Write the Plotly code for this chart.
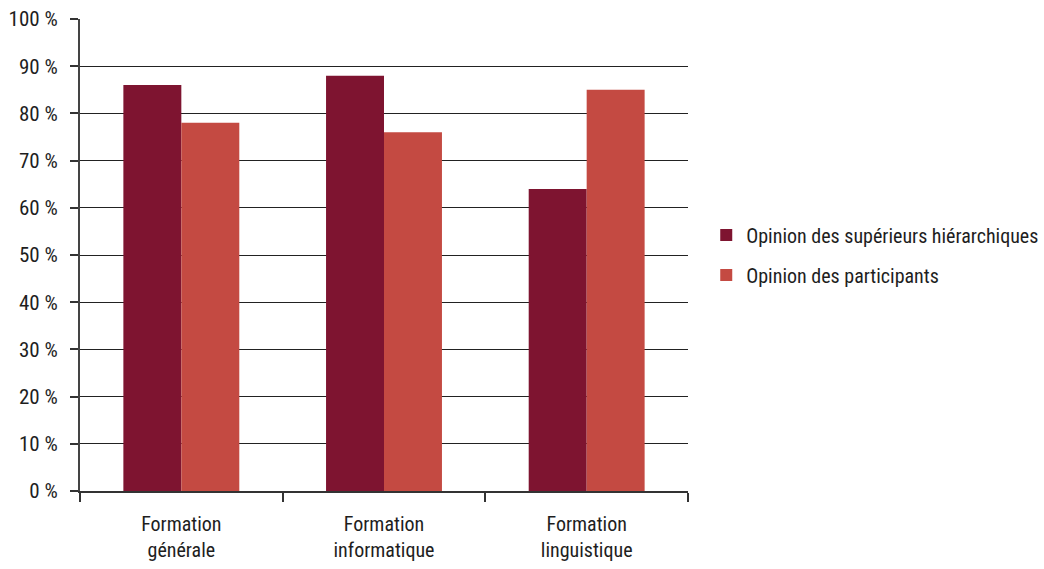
import plotly.graph_objects as go

categories = ["Formation<br>générale", "Formation<br>informatique", "Formation<br>linguistique"]
superieurs = [86, 88, 64]
participants = [78, 76, 85]
y_tick_vals = [0, 10, 20, 30, 40, 50, 60, 70, 80, 90, 100]
y_tick_text = ["0 %", "10 %", "20 %", "30 %", "40 %", "50 %", "60 %", "70 %", "80 %", "90 %", "100 %"]

FONT = "Roboto Condensed, DejaVu Sans Condensed, sans-serif"
TEXT_COLOR = "#1e1e1e"

fig = go.Figure()
fig.add_trace(go.Bar(
    x=categories, y=superieurs, name="Opinion des supérieurs hiérarchiques",
    legendgroup="sup", marker=dict(color="#7E1430", line=dict(width=0)),
))
fig.add_trace(go.Bar(
    x=categories, y=participants, name="Opinion des participants",
    legendgroup="part", marker=dict(color="#C44A42", line=dict(width=0)),
))

fig.update_layout(
    width=1044, height=569,
    margin=dict(l=80, r=356, t=19, b=78, autoexpand=False),
    paper_bgcolor="white", plot_bgcolor="white",
    barmode="group", bargap=0.428, bargroupgap=0,
    font=dict(family=FONT, size=20, color=TEXT_COLOR),
    showlegend=True,
    legend=dict(
        x=1.03, y=0.50, xanchor="left", yanchor="middle",
        font=dict(family=FONT, size=20, color=TEXT_COLOR),
        tracegroupgap=11, itemwidth=30,
    ),
)
fig.update_xaxes(
    automargin=False,
    showline=True, linecolor="#333333", linewidth=1.5,
    ticks="outside", tickson="boundaries", ticklen=9, tickwidth=2, tickcolor="#333333",
    ticklabelstandoff=14,
    showgrid=False,
    tickfont=dict(family=FONT, size=20, color=TEXT_COLOR),
)
fig.update_yaxes(
    automargin=False,
    range=[0, 100], tickvals=y_tick_vals, ticktext=y_tick_text,
    showline=True, linecolor="#444444", linewidth=2,
    ticks="outside", ticklen=8, tickwidth=2, tickcolor="#333333",
    ticklabelstandoff=8,
    showgrid=True, gridcolor="#222222", gridwidth=1,
    zeroline=False,
    tickfont=dict(family=FONT, size=21, color=TEXT_COLOR),
)

fig.write_html("out.html")
